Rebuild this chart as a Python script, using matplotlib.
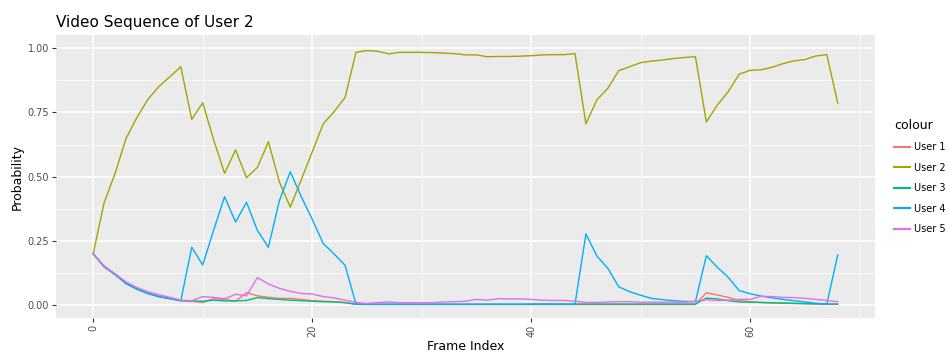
import numpy as np
import matplotlib
matplotlib.use('Agg')
import matplotlib.pyplot as plt
from matplotlib.ticker import MultipleLocator

# probabilities per frame
frames = list(range(69))

user1 = [0.200, 0.149, 0.119, 0.084, 0.062, 0.045, 0.033, 0.025, 0.017, 0.015,
         0.010, 0.025, 0.022, 0.015, 0.048, 0.036, 0.030, 0.026, 0.026, 0.022,
         0.017, 0.015, 0.013, 0.010, 0.003, 0.002, 0.002, 0.002, 0.002, 0.002,
         0.002, 0.002, 0.002, 0.002, 0.002, 0.002, 0.002, 0.002, 0.002, 0.002,
         0.002, 0.002, 0.002, 0.002, 0.002, 0.002, 0.002, 0.002, 0.002, 0.002,
         0.002, 0.002, 0.002, 0.002, 0.002, 0.002, 0.048, 0.039, 0.030, 0.017,
         0.013, 0.010, 0.008, 0.007, 0.006, 0.005, 0.004, 0.003, 0.003]

user2 = [0.200, 0.399, 0.513, 0.649, 0.731, 0.801, 0.851, 0.889, 0.928, 0.723,
         0.788, 0.643, 0.513, 0.604, 0.496, 0.536, 0.636, 0.480, 0.381, 0.488,
         0.596, 0.705, 0.753, 0.808, 0.984, 0.991, 0.988, 0.978, 0.984, 0.984,
         0.984, 0.983, 0.981, 0.979, 0.974, 0.974, 0.967, 0.968, 0.968, 0.969,
         0.971, 0.974, 0.975, 0.975, 0.979, 0.706, 0.799, 0.844, 0.913, 0.928,
         0.944, 0.950, 0.954, 0.960, 0.964, 0.967, 0.713, 0.779, 0.831, 0.899,
         0.914, 0.916, 0.926, 0.940, 0.951, 0.956, 0.970, 0.975, 0.786]

user3 = [0.200, 0.149, 0.119, 0.084, 0.062, 0.045, 0.033, 0.025, 0.017, 0.016,
         0.015, 0.019, 0.016, 0.016, 0.018, 0.029, 0.025, 0.022, 0.019, 0.017,
         0.015, 0.013, 0.012, 0.009, 0.003, 0.003, 0.003, 0.003, 0.003, 0.003,
         0.003, 0.003, 0.003, 0.003, 0.003, 0.003, 0.003, 0.003, 0.003, 0.003,
         0.004, 0.004, 0.004, 0.004, 0.004, 0.004, 0.004, 0.004, 0.004, 0.004,
         0.004, 0.004, 0.004, 0.004, 0.004, 0.004, 0.027, 0.024, 0.017, 0.012,
         0.011, 0.010, 0.009, 0.008, 0.007, 0.006, 0.005, 0.004, 0.004]

user4 = [0.200, 0.149, 0.119, 0.084, 0.062, 0.045, 0.033, 0.025, 0.017, 0.225,
         0.156, 0.292, 0.422, 0.323, 0.400, 0.290, 0.225, 0.406, 0.519, 0.422,
         0.334, 0.240, 0.199, 0.155, 0.004, 0.003, 0.003, 0.003, 0.003, 0.003,
         0.003, 0.003, 0.003, 0.003, 0.003, 0.003, 0.003, 0.003, 0.003, 0.003,
         0.003, 0.003, 0.003, 0.003, 0.003, 0.277, 0.191, 0.143, 0.071, 0.052,
         0.038, 0.026, 0.021, 0.017, 0.014, 0.013, 0.192, 0.147, 0.108, 0.056,
         0.044, 0.035, 0.028, 0.022, 0.017, 0.012, 0.007, 0.004, 0.195]

user5 = [0.200, 0.152, 0.122, 0.090, 0.068, 0.052, 0.040, 0.030, 0.019, 0.017,
         0.033, 0.030, 0.024, 0.042, 0.036, 0.107, 0.082, 0.065, 0.053, 0.045,
         0.043, 0.033, 0.028, 0.019, 0.010, 0.006, 0.010, 0.012, 0.009, 0.009,
         0.009, 0.009, 0.012, 0.013, 0.015, 0.022, 0.019, 0.025, 0.024, 0.024,
         0.022, 0.019, 0.018, 0.018, 0.015, 0.010, 0.010, 0.012, 0.013, 0.013,
         0.011, 0.011, 0.011, 0.011, 0.011, 0.015, 0.021, 0.018, 0.019, 0.022,
         0.022, 0.034, 0.033, 0.030, 0.029, 0.026, 0.022, 0.018, 0.013]

series = {'User 1': user1, 'User 2': user2, 'User 3': user3,
          'User 4': user4, 'User 5': user5}
colours = ['#F8766D', '#A3A500', '#00BF7D', '#00B0F6', '#E76BF3']

fig = plt.figure(figsize=(9.49, 3.54), dpi=100)
ax = fig.add_axes([0.059, 0.102, 0.863, 0.798])
ax.set_facecolor('#EBEBEB')

for (name, vals), col in zip(series.items(), colours):
    ax.plot(frames, vals, color=col, linewidth=1.0, label=name)

ax.set_xlim(-3.4, 71.4)
ax.set_ylim(-0.05, 1.05)
ax.xaxis.set_major_locator(MultipleLocator(20))
ax.xaxis.set_minor_locator(MultipleLocator(10))
ax.set_yticks([0, 0.25, 0.5, 0.75, 1.0])
ax.set_yticklabels(['0.00', '0.25', '0.50', '0.75', '1.00'])
ax.yaxis.set_minor_locator(MultipleLocator(0.125))
ax.grid(which='major', color='white', linewidth=1.1)
ax.grid(which='minor', color='white', linewidth=0.55)
ax.set_axisbelow(True)
for s in ax.spines.values():
    s.set_visible(False)
ax.tick_params(which='major', length=3, color='#333333', labelsize=7,
               labelcolor='#4D4D4D', pad=2)
ax.tick_params(which='minor', length=0)
plt.setp(ax.get_xticklabels(), rotation=90)

ax.set_xlabel('Frame Index', fontsize=9, labelpad=2)
ax.set_ylabel('Probability', fontsize=9, labelpad=3)
ax.set_title('Video Sequence of User 2', fontsize=11, loc='left', pad=6)

leg = fig.legend(*ax.get_legend_handles_labels(), title='colour',
                 loc='upper left', bbox_to_anchor=(0.942, 0.665),
                 frameon=False, fontsize=7, title_fontsize=9,
                 handlelength=1.6, handletextpad=0.5, labelspacing=1.08,
                 alignment='left', borderaxespad=0, borderpad=0)
for h in leg.get_lines():
    h.set_linewidth(1.5)

fig.savefig('out.png', dpi=100)
